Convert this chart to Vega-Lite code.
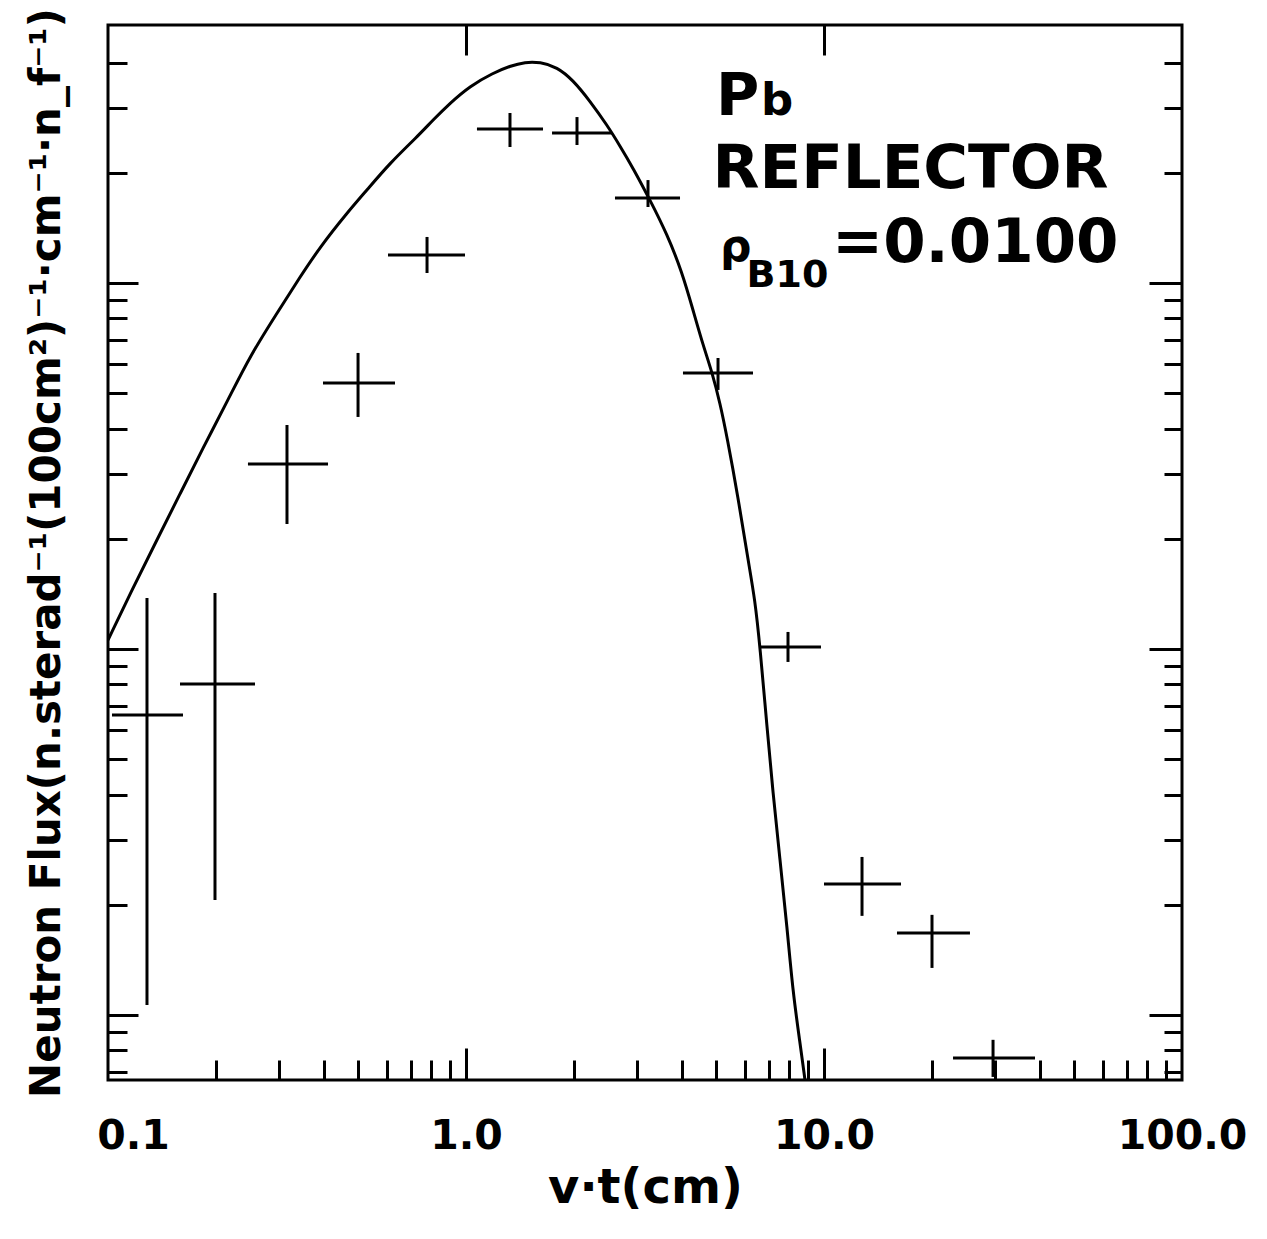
{
  "$schema": "https://vega.github.io/schema/vega-lite/v6.json",
  "width": 1074,
  "height": 1055,
  "autosize": {"type": "none"},
  "padding": {"left": 108, "top": 25, "right": 85, "bottom": 159},
  "background": "white",
  "config": {
    "view": {"stroke": "black", "strokeWidth": 3},
    "axis": {"grid": false, "domain": false, "tickColor": "black", "tickWidth": 3, "labelColor": "black", "titleColor": "black", "labelFont": "DejaVu Sans", "titleFont": "DejaVu Sans", "labelFontWeight": "bold", "titleFontWeight": "bold"},
    "text": {"font": "DejaVu Sans", "fontWeight": "bold", "color": "black"}
  },
  "datasets": {
    "points": [
      {"x": 0.1285, "xlo": 0.1026, "xhi": 0.1620, "y": 6.60, "ylo": 1.065, "yhi": 13.78},
      {"x": 0.1990, "xlo": 0.1589, "xhi": 0.2574, "y": 8.02, "ylo": 2.062, "yhi": 14.22},
      {"x": 0.3162, "xlo": 0.2460, "xhi": 0.4117, "y": 32.03, "ylo": 21.95, "yhi": 40.93},
      {"x": 0.4994, "xlo": 0.3986, "xhi": 0.6334, "y": 53.31, "ylo": 43.05, "yhi": 64.40},
      {"x": 0.7783, "xlo": 0.6055, "xhi": 0.9936, "y": 119.3, "ylo": 106.5, "yhi": 133.6},
      {"x": 1.327, "xlo": 1.073, "xhi": 1.641, "y": 263.6, "ylo": 235.3, "yhi": 291.4},
      {"x": 2.042, "xlo": 1.739, "xhi": 2.557, "y": 256.9, "ylo": 238.3, "yhi": 284.1},
      {"x": 3.224, "xlo": 2.607, "xhi": 3.961, "y": 170.7, "ylo": 161.3, "yhi": 191.1},
      {"x": 5.058, "xlo": 4.037, "xhi": 6.334, "y": 56.77, "ylo": 51.02, "yhi": 62.39},
      {"x": 7.933, "xlo": 6.626, "xhi": 9.808, "y": 10.13, "ylo": 9.216, "yhi": 11.13},
      {"x": 12.77, "xlo": 10.0, "xhi": 16.41, "y": 2.280, "ylo": 1.865, "yhi": 2.702},
      {"x": 20.03, "xlo": 15.99, "xhi": 25.57, "y": 1.675, "ylo": 1.344, "yhi": 1.877},
      {"x": 29.66, "xlo": 22.93, "xhi": 38.85, "y": 0.763, "ylo": 0.677, "yhi": 0.855}
    ],
    "curve": [
      {"x": 0.1, "y": 10.58},
      {"x": 0.1174, "y": 14.68},
      {"x": 0.1370, "y": 19.86},
      {"x": 0.1589, "y": 26.52},
      {"x": 0.1842, "y": 35.42},
      {"x": 0.2164, "y": 47.89},
      {"x": 0.2492, "y": 63.17},
      {"x": 0.2966, "y": 82.79},
      {"x": 0.3438, "y": 103.8},
      {"x": 0.3911, "y": 125.4},
      {"x": 0.4652, "y": 155.4},
      {"x": 0.5291, "y": 179.6},
      {"x": 0.6134, "y": 212.8},
      {"x": 0.7296, "y": 250.6},
      {"x": 0.8087, "y": 278.8},
      {"x": 0.9023, "y": 310.2},
      {"x": 1.026, "y": 345.4},
      {"x": 1.190, "y": 374.9},
      {"x": 1.327, "y": 391.7},
      {"x": 1.462, "y": 401.7},
      {"x": 1.609, "y": 401.7},
      {"x": 1.796, "y": 389.3},
      {"x": 1.990, "y": 358.6},
      {"x": 2.220, "y": 314.2},
      {"x": 2.477, "y": 270.2},
      {"x": 2.693, "y": 236.8},
      {"x": 2.928, "y": 206.2},
      {"x": 3.266, "y": 168.6},
      {"x": 3.643, "y": 136.1},
      {"x": 4.012, "y": 107.2},
      {"x": 4.306, "y": 84.37},
      {"x": 4.592, "y": 67.70},
      {"x": 4.866, "y": 57.12},
      {"x": 5.123, "y": 46.99},
      {"x": 5.360, "y": 37.96},
      {"x": 5.752, "y": 26.02},
      {"x": 6.134, "y": 17.51},
      {"x": 6.417, "y": 13.61},
      {"x": 6.626, "y": 10.13},
      {"x": 6.931, "y": 6.122},
      {"x": 7.203, "y": 4.043},
      {"x": 7.536, "y": 2.652},
      {"x": 7.883, "y": 1.740},
      {"x": 8.193, "y": 1.148},
      {"x": 8.570, "y": 0.8385},
      {"x": 8.849, "y": 0.664}
    ]
  },
  "layer": [
    {
      "data": {"name": "points"},
      "mark": {"type": "rule", "strokeWidth": 3, "color": "black"},
      "encoding": {
        "x": {"field": "xlo", "type": "quantitative", "scale": {"type": "log", "domain": [0.1, 100], "nice": false},
          "axis": {"orient": "bottom", "values": [0.1, 1, 10, 100], "format": ".1f", "ticks": false, "tickSize": 0, "labelFontSize": 41, "labelPadding": 36, "labelOverlap": false, "labelFlush": false,
            "labelOffset": {"condition": {"test": "datum.value < 0.5", "value": 25}, "value": 0},
            "title": "v·t(cm)", "titleFontSize": 48, "titlePadding": 8}},
        "x2": {"field": "xhi"},
        "y": {"field": "y", "type": "quantitative", "scale": {"type": "log", "domain": [0.664, 507], "nice": false},
          "axis": {"orient": "left", "values": [0.7, 0.8, 0.9, 1, 2, 3, 4, 5, 6, 7, 8, 9, 10, 20, 30, 40, 50, 60, 70, 80, 90, 100, 200, 300, 400], "labels": false,
            "tickSize": {"condition": {"test": "datum.value == 1 || datum.value == 10 || datum.value == 100", "value": -30}, "value": -19},
            "title": "Neutron Flux(n.sterad⁻¹(100cm²)⁻¹·cm⁻¹·n_f⁻¹)", "titleFontSize": 42, "titlePadding": 38}}
      }
    },
    {
      "data": {"name": "points"},
      "mark": {"type": "rule", "strokeWidth": 3, "color": "black"},
      "encoding": {
        "x": {"field": "x", "type": "quantitative", "scale": {"type": "log", "domain": [0.1, 100], "nice": false},
          "axis": {"orient": "bottom", "values": [0.2, 0.3, 0.4, 0.5, 0.6, 0.7, 0.8, 0.9, 1, 2, 3, 4, 5, 6, 7, 8, 9, 10, 20, 30, 40, 50, 60, 70, 80, 90], "labels": false, "title": null,
            "tickSize": {"condition": {"test": "datum.value == 1 || datum.value == 10", "value": -32}, "value": -20}}},
        "y": {"field": "ylo", "type": "quantitative", "scale": {"type": "log", "domain": [0.664, 507], "nice": false},
          "axis": {"orient": "right", "values": [0.7, 0.8, 0.9, 1, 2, 3, 4, 5, 6, 7, 8, 9, 10, 20, 30, 40, 50, 60, 70, 80, 90, 100, 200, 300, 400], "labels": false, "title": null,
            "tickSize": {"condition": {"test": "datum.value == 1 || datum.value == 10 || datum.value == 100", "value": -33}, "value": -18}}},
        "y2": {"field": "yhi"}
      }
    },
    {
      "data": {"name": "curve"},
      "mark": {"type": "line", "strokeWidth": 3, "color": "black", "interpolate": "basis", "clip": true},
      "encoding": {
        "x": {"field": "x", "type": "quantitative", "scale": {"type": "log", "domain": [0.1, 100], "nice": false},
          "axis": {"orient": "top", "values": [1, 10], "labels": false, "title": null, "tickSize": -30}},
        "y": {"field": "y", "type": "quantitative", "scale": {"type": "log", "domain": [0.664, 507], "nice": false}, "axis": null}
      }
    },
    {
      "data": {"values": [{}]},
      "mark": {"type": "text", "text": "P", "fontSize": 59, "align": "left", "baseline": "alphabetic"},
      "encoding": {
        "x": {"datum": 4.993, "type": "quantitative", "scale": {"type": "log", "domain": [0.1, 100], "nice": false}, "axis": null},
        "y": {"datum": 287.7, "type": "quantitative", "scale": {"type": "log", "domain": [0.664, 507], "nice": false}, "axis": null}
      }
    },
    {
      "data": {"values": [{}]},
      "mark": {"type": "text", "text": "b", "fontSize": 45, "align": "left", "baseline": "alphabetic"},
      "encoding": {
        "x": {"datum": 6.668, "type": "quantitative", "scale": {"type": "log", "domain": [0.1, 100], "nice": false}, "axis": null},
        "y": {"datum": 287.7, "type": "quantitative", "scale": {"type": "log", "domain": [0.664, 507], "nice": false}, "axis": null}
      }
    },
    {
      "data": {"values": [{}]},
      "mark": {"type": "text", "text": "REFLECTOR", "fontSize": 61, "align": "left", "baseline": "alphabetic"},
      "encoding": {
        "x": {"datum": 4.881, "type": "quantitative", "scale": {"type": "log", "domain": [0.1, 100], "nice": false}, "axis": null},
        "y": {"datum": 181.8, "type": "quantitative", "scale": {"type": "log", "domain": [0.664, 507], "nice": false}, "axis": null}
      }
    },
    {
      "data": {"values": [{}]},
      "mark": {"type": "text", "text": "ρ", "fontSize": 44, "align": "left", "baseline": "alphabetic"},
      "encoding": {
        "x": {"datum": 5.123, "type": "quantitative", "scale": {"type": "log", "domain": [0.1, 100], "nice": false}, "axis": null},
        "y": {"datum": 114.8, "type": "quantitative", "scale": {"type": "log", "domain": [0.664, 507], "nice": false}, "axis": null}
      }
    },
    {
      "data": {"values": [{}]},
      "mark": {"type": "text", "text": "B10", "fontSize": 38, "align": "left", "baseline": "alphabetic"},
      "encoding": {
        "x": {"datum": 6.075, "type": "quantitative", "scale": {"type": "log", "domain": [0.1, 100], "nice": false}, "axis": null},
        "y": {"datum": 97.5, "type": "quantitative", "scale": {"type": "log", "domain": [0.664, 507], "nice": false}, "axis": null}
      }
    },
    {
      "data": {"values": [{}]},
      "mark": {"type": "text", "text": "=0.0100", "fontSize": 61, "align": "left", "baseline": "alphabetic"},
      "encoding": {
        "x": {"datum": 10.53, "type": "quantitative", "scale": {"type": "log", "domain": [0.1, 100], "nice": false}, "axis": null},
        "y": {"datum": 114.1, "type": "quantitative", "scale": {"type": "log", "domain": [0.664, 507], "nice": false}, "axis": null}
      }
    }
  ],
  "resolve": {"axis": {"x": "independent", "y": "independent"}}
}
